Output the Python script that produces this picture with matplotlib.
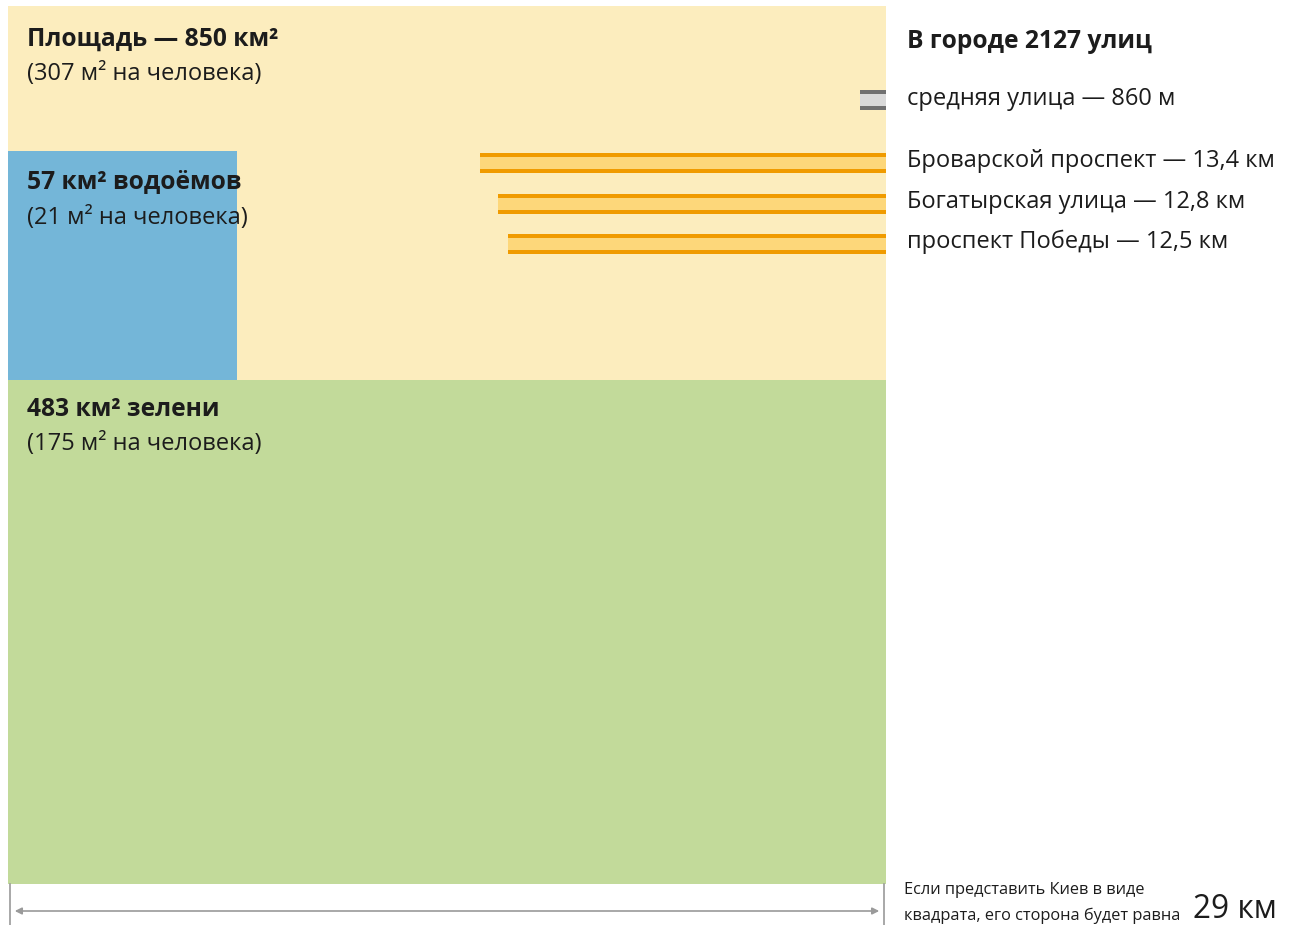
import numpy as np
import matplotlib.pyplot as plt
from matplotlib.patches import Rectangle

plt.rcParams['font.family'] = ['Open Sans', 'DejaVu Sans']

# data
side_km = 29
total_area = 850
water_area = 57
green_area = 483
per_person = [307, 21, 175]

street_count = 2127
avg_street_km = 0.86
streets = ["Броварской проспект", "Богатырская улица", "проспект Победы"]
street_labels = ["13,4 км", "12,8 км", "12,5 км"]
street_km = np.array([13.4, 12.8, 12.5])

W, H = 1291, 925
fig = plt.figure(figsize=(W / 100, H / 100), dpi=100)
ax = fig.add_axes([0, 0, 1, 1])
s = 878 / side_km  # px per km
ax.set_xlim(-8 / s, (W - 8) / s)
ax.set_ylim((H - 6) / s, -6 / s)
ax.axis('off')

def py(p):
    return (p - 6) / s

def px(p):
    return (p - 8) / s

ink = '#1c1c1c'

# city square
ax.add_patch(Rectangle((0, 0), side_km, side_km, facecolor='#fcedbe', edgecolor='none'))
# green
g_h = green_area / side_km
ax.add_patch(Rectangle((0, side_km - g_h), side_km, g_h, facecolor='#c2da9a', edgecolor='none'))
# water
w_side = np.sqrt(water_area)
ax.add_patch(Rectangle((0, side_km - g_h - w_side), w_side, w_side, facecolor='#74b6d8', edgecolor='none'))

# streets
ys = np.array([py(163), py(203.5), py(244)])
ax.barh(ys, street_km, left=side_km - street_km, height=20 / s, color='#f09b00')
ax.barh(ys, street_km, left=side_km - street_km, height=12 / s, color='#fdd77a')
ax.barh([py(100)], [avg_street_km], left=side_km - avg_street_km, height=20 / s, color='#707070')
ax.barh([py(100)], [avg_street_km], left=side_km - avg_street_km, height=12 / s, color='#d9d9d9')

# area labels
fs = 17
fb = 17.7
ax.text(px(27), py(39), f"Площадь — {total_area} км²", fontsize=fb, fontweight='bold', color=ink, va='center')
ax.text(px(27), py(74), f"({per_person[0]} м² на человека)", fontsize=fs, color=ink, va='center')
ax.text(px(27), py(183), f"{water_area} км² водоёмов", fontsize=fb, fontweight='bold', color=ink, va='center')
ax.text(px(27), py(218), f"({per_person[1]} м² на человека)", fontsize=fs, color=ink, va='center')
ax.text(px(27), py(409), f"{green_area} км² зелени", fontsize=fb, fontweight='bold', color=ink, va='center')
ax.text(px(27), py(444), f"({per_person[2]} м² на человека)", fontsize=fs, color=ink, va='center')

# street labels
ax.text(px(907), py(42), f"В городе {street_count} улиц", fontsize=fb, fontweight='bold', color=ink, va='center')
ax.text(px(907), py(99), f"средняя улица — {int(avg_street_km * 1000)} м", fontsize=fs, color=ink, va='center')
for y, name, lab in zip(ys, streets, street_labels):
    ax.text(px(907), y - 2 / s, f"{name} — {lab}", fontsize=fs, color=ink, va='center')

# dimension line
lc = '#9a9a9a'
ax.plot([px(10), px(10)], [side_km, py(925)], color=lc, lw=1.2, clip_on=False)
ax.plot([px(884), px(884)], [side_km, py(925)], color=lc, lw=1.2, clip_on=False)
ax.annotate('', xy=(px(12), py(911)), xytext=(px(882), py(911)),
            arrowprops=dict(arrowstyle='<|-|>', color=lc, lw=1.2, mutation_scale=10))
ax.text(px(904), py(890), "Если представить Киев в виде", fontsize=11.8, color=ink, va='center')
ax.text(px(904), py(916), "квадрата, его сторона будет равна", fontsize=11.8, color=ink, va='center')
ax.text(px(1193), py(909), f"{side_km} км", fontsize=22.8, color=ink, va='center')

fig.savefig('out.png', dpi=100)
